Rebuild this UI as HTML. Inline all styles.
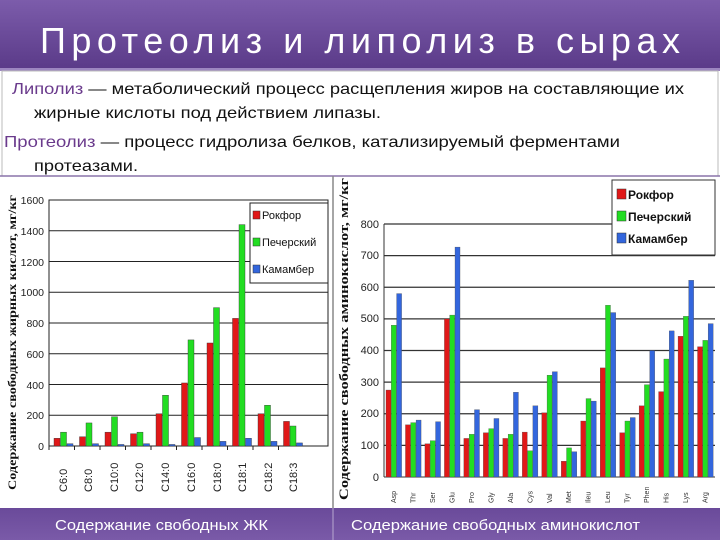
<!DOCTYPE html>
<html><head><meta charset="utf-8"><style>
html,body{margin:0;padding:0;width:720px;height:540px;overflow:hidden;background:#fff}
svg{display:block}
</style></head><body>
<svg id="s" width="720" height="540" viewBox="0 0 720 540" xmlns="http://www.w3.org/2000/svg">
<defs>
<linearGradient id="hd" x1="0" y1="0" x2="0" y2="1"><stop offset="0" stop-color="#7c5cab"/><stop offset="1" stop-color="#5a3a88"/></linearGradient>
<linearGradient id="ft" x1="0" y1="0" x2="0" y2="1"><stop offset="0" stop-color="#6a4a9a"/><stop offset="1" stop-color="#7a5aa8"/></linearGradient>
</defs>
<rect x="0" y="0" width="720" height="70" fill="url(#hd)"/>
<rect x="0" y="68" width="720" height="3" fill="#9c86c0"/>
<text x="40" y="53" fill="#fff" font-family="Liberation Sans, sans-serif" font-size="36" textLength="640" lengthAdjust="spacing">Протеолиз и липолиз в  сырах</text>
<rect x="2" y="71" width="716" height="105" fill="#fff" stroke="#bbb" stroke-width="1"/>
<g font-family="Liberation Sans, sans-serif" font-size="16" fill="#111">
<text x="12" y="94" textLength="672" lengthAdjust="spacingAndGlyphs"><tspan fill="#6a3a8c">Липолиз</tspan> — метаболический процесс расщепления жиров на составляющие их</text>
<text x="34" y="118" textLength="347" lengthAdjust="spacingAndGlyphs">жирные кислоты под действием липазы.</text>
<text x="4" y="147" textLength="616" lengthAdjust="spacingAndGlyphs"><tspan fill="#6a3a8c">Протеолиз</tspan> — процесс гидролиза белков, катализируемый ферментами</text>
<text x="34" y="171" textLength="104" lengthAdjust="spacingAndGlyphs">протеазами.</text>
</g>
<line x1="0" y1="176" x2="720" y2="176" fill="none" stroke="#8a74aa" stroke-width="1.5"/>
<line x1="333" y1="176" x2="333" y2="510" stroke="#888" stroke-width="1.5"/>

<g font-family="Liberation Sans, sans-serif">
<g font-size="10.5" fill="#222" text-anchor="end">
<text x="44" y="204">1600</text><text x="44" y="235">1400</text><text x="44" y="266">1200</text><text x="44" y="296">1000</text><text x="44" y="327">800</text><text x="44" y="358">600</text><text x="44" y="389">400</text><text x="44" y="419">200</text><text x="44" y="450">0</text>
</g>
<text transform="translate(16,490) rotate(-90)" font-family="Liberation Serif, serif" font-weight="bold" font-size="12" fill="#111" textLength="295" lengthAdjust="spacingAndGlyphs">Содержание свободных жирных кислот, мг/кг</text>
<g font-size="11" fill="#222">
<text transform="translate(67,492) rotate(-90)">C6:0</text>
<text transform="translate(92,492) rotate(-90)">C8:0</text>
<text transform="translate(118,492) rotate(-90)">C10:0</text>
<text transform="translate(143,492) rotate(-90)">C12:0</text>
<text transform="translate(169,492) rotate(-90)">C14:0</text>
<text transform="translate(195,492) rotate(-90)">C16:0</text>
<text transform="translate(221,492) rotate(-90)">C18:0</text>
<text transform="translate(246,492) rotate(-90)">C18:1</text>
<text transform="translate(272,492) rotate(-90)">C18:2</text>
<text transform="translate(297,492) rotate(-90)">C18:3</text>
</g>
</g>
<g font-family="Liberation Sans, sans-serif">
<g font-size="11" fill="#222" text-anchor="end">
<text x="379" y="228">800</text><text x="379" y="259">700</text><text x="379" y="291">600</text><text x="379" y="322">500</text><text x="379" y="354">400</text><text x="379" y="386">300</text><text x="379" y="417">200</text><text x="379" y="449">100</text><text x="379" y="481">0</text>
</g>
<text transform="translate(348,500) rotate(-90)" font-family="Liberation Serif, serif" font-weight="bold" font-size="12.5" fill="#111" textLength="322" lengthAdjust="spacingAndGlyphs">Содержание свободных аминокислот, мг/кг</text>
</g>

<rect x="0" y="508" width="720" height="32" fill="url(#ft)"/>
<line x1="333" y1="508" x2="333" y2="540" stroke="#b8a8d0" stroke-width="1"/>
<text x="55" y="530" fill="#fff" font-family="Liberation Sans, sans-serif" font-size="15" textLength="213" lengthAdjust="spacingAndGlyphs">Содержание свободных ЖК</text>
<text x="351" y="530" fill="#fff" font-family="Liberation Sans, sans-serif" font-size="15" textLength="289" lengthAdjust="spacingAndGlyphs">Содержание свободных аминокислот</text>
<g id="dyn"></g>
</svg>
<script>
var NS="http://www.w3.org/2000/svg",d=document.getElementById("dyn");
function el(t,a,p){var e=document.createElementNS(NS,t);for(var k in a)e.setAttribute(k,a[k]);(p||d).appendChild(e);return e;}
var C=["#e01818","#22dd22","#3366dd"];
var L={x0:49,x1:328,y0:446,y1:200,max:1600};
for(var v=200;v<=1600;v+=200){var y=L.y0-(L.y0-L.y1)*v/L.max;el("line",{x1:L.x0,x2:L.x1,y1:y,y2:y,stroke:"#222","stroke-width":1});}
el("rect",{x:L.x0,y:L.y1,width:L.x1-L.x0,height:L.y0-L.y1,fill:"none",stroke:"#222","stroke-width":1});
var ld=[[50,90,15],[60,150,15],[90,190,10],[80,90,15],[210,330,10],[410,690,55],[670,900,30],[830,1440,50],[210,265,30],[160,130,20]];
var sw=25.5;
ld.forEach(function(r,i){r.forEach(function(v,j){var h=(L.y0-L.y1)*v/L.max;el("rect",{x:L.x0+i*sw+5+j*6.5,y:L.y0-h,width:6,height:h,fill:C[j],stroke:"#333","stroke-width":0.4});});
el("line",{x1:L.x0+i*sw,x2:L.x0+i*sw,y1:L.y0,y2:L.y0+4,stroke:"#222"});});
el("rect",{x:250,y:203,width:78,height:80,fill:"#fff",stroke:"#222","stroke-width":1});
var ln=["Рокфор","Печерский","Камамбер"];
ln.forEach(function(n,j){el("rect",{x:253,y:211+j*27,width:7,height:8,fill:C[j],stroke:"#333","stroke-width":0.5});var t=el("text",{x:262,y:219+j*27,"font-family":"Liberation Sans, sans-serif","font-size":"11","fill":"#111"});t.textContent=n;});
var R={x0:384,x1:715,y0:477,y1:224,max:800};
for(var v=100;v<=800;v+=100){var y=R.y0-(R.y0-R.y1)*v/R.max;el("line",{x1:R.x0,x2:R.x1,y1:y,y2:y,stroke:"#333","stroke-width":1.2});}
el("line",{x1:R.x0,x2:R.x0,y1:R.y1,y2:R.y0,stroke:"#333"});
el("line",{x1:R.x0,x2:R.x1,y1:R.y0,y2:R.y0,stroke:"#333"});
var rd=[[275,480,580],[165,172,180],[105,115,175],[500,512,727],[122,135,213],[140,153,185],[122,135,268],[142,83,225],[203,322,333],[50,92,80],[177,248,240],[345,543,520],[140,177,188],[225,292,400],[270,373,462],[445,508,622],[412,432,485]];
var rn=["Asp","Thr","Ser","Glu","Pro","Gly","Ala","Cys","Val","Met","Ileu","Leu","Tyr","Phen","His","Lys","Arg"];
var rs=(R.x1-R.x0)/17;
rd.forEach(function(r,i){r.forEach(function(v,j){var h=(R.y0-R.y1)*v/R.max;el("rect",{x:R.x0+i*rs+2+j*5.3,y:R.y0-h,width:5,height:h,fill:C[j],stroke:"#444","stroke-width":0.3});});
var t=el("text",{transform:"translate("+(R.x0+i*rs+12)+",503) rotate(-90)","font-family":"Liberation Sans, sans-serif","font-size":"7","fill":"#333"});t.textContent=rn[i];});
el("rect",{x:612,y:180,width:103,height:75,fill:"#fff",stroke:"#333","stroke-width":1});
ln.forEach(function(n,j){el("rect",{x:617,y:189+j*22,width:9,height:10,fill:C[j],stroke:"#333","stroke-width":0.5});var t=el("text",{x:628,y:199+j*22,"font-family":"Liberation Sans, sans-serif","font-size":"12","font-weight":"bold","fill":"#111"});t.textContent=n;});
</script>
</body></html>
